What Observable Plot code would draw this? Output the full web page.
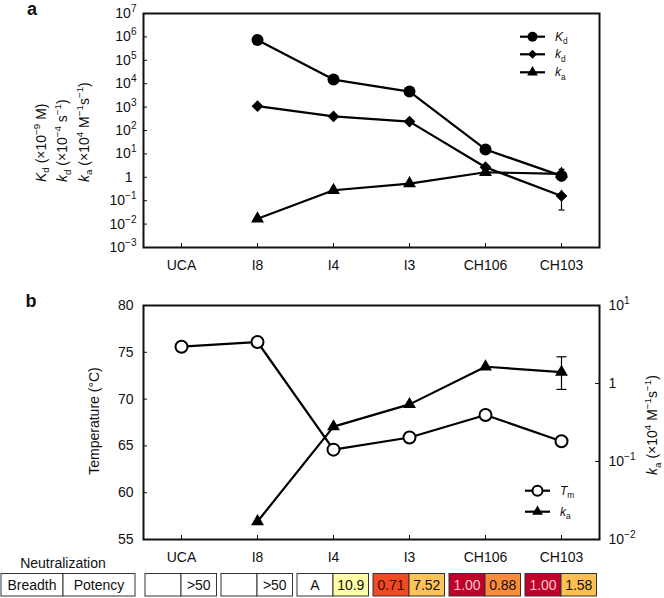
<!DOCTYPE html>
<html><head><meta charset="utf-8">
<script src="https://cdn.jsdelivr.net/npm/d3@7"></script>
<script src="https://cdn.jsdelivr.net/npm/@observablehq/plot@0.6"></script>
<style>
html,body{margin:0;padding:0;background:#fff;}
#root{position:relative;width:664px;height:598px;overflow:hidden;font-family:"Liberation Sans",Arial,Helvetica,sans-serif;}
#root svg{position:absolute;left:0;overflow:visible;}
</style></head><body><div id="root"></div>
<script>
// ---- data ----
const cats = ["UCA", "I8", "I4", "I3", "CH106", "CH103"];
const KdVals = [null, 7.4e5, 1.5e4, 4.6e3, 15.5, 1.15];   // x1e-9 M
const kdVals = [null, 1100, 400, 240, 2.7, 0.16];          // x1e-4 s-1
const kaVals = [null, 0.017, 0.28, 0.54, 1.64, 1.40];      // x1e4 M-1 s-1
const TmVals = [75.6, 76.1, 64.6, 65.9, 68.3, 65.5];       // degC
const kdErr = [{cat: "CH103", lo: 0.04, hi: 0.28}];
const kaErr = [{cat: "CH103", lo: 0.84, hi: 2.2}];
const breadth = ["", "", "A", "0.71", "1.00", "1.00"];
const potency = [">50", ">50", "10.9", "7.52", "0.88", "1.58"];
const yTicksA = [1e-3, 1e-2, 1e-1, 1, 1e1, 1e2, 1e3, 1e4, 1e5, 1e6, 1e7];
const yTicksTm = [55, 60, 65, 70, 75, 80];
const yTicksKa = [1e-2, 1e-1, 1, 1e1];
// cell colours (style palette)
const breadthColors = ["#ffffff", "#ffffff", "#ffffff", "#f04a22", "#c0002b", "#c0002b"];
const potencyColors = ["#ffffff", "#ffffff", "#ffffa6", "#fdc25a", "#fc8b3b", "#fdbf4f"];
const breadthText = ["#111", "#111", "#111", "#3a0a02", "#f6cccc", "#f6cccc"];

const rows = cats.map((c, i) => ({cat: c, Kd: KdVals[i], kd: kdVals[i], ka: kaVals[i], Tm: TmVals[i]}));
const rowsA = rows.filter(d => d.Kd != null);

const FONT = '"Liberation Sans", Arial, Helvetica, sans-serif';
const W = 664, ML = 143, MR = 65;
const frameW = W - ML - MR, frameH = 234, TICK = 4;
const INK = "#111";
const style = {fontFamily: FONT, fontSize: "14px", color: INK, background: "transparent", overflow: "visible"};

const fmtPow = v => v === 1 ? "1" : "10^" + String(Math.round(Math.log10(v))).replace("-", "\u2212");
const cap = w => ({draw(ctx) { ctx.moveTo(-w, 0); ctx.lineTo(w, 0); }});

function supify(svg, oneDx) {
  d3.select(svg).selectAll("text").each(function() {
    const t = this.textContent;
    if (t.includes("^")) {
      const [base, exp] = t.split("^");
      const sel = d3.select(this); sel.text(null);
      sel.append("tspan").text(base);
      sel.append("tspan").attr("dy", "-0.6em").attr("font-size", "72%").text(exp);
    } else if (t === "1" && oneDx) {
      d3.select(this).attr("dx", oneDx);
    }
  });
}

function rich(parent, parts, o) {
  const fs = o.fontSize;
  const t = parent.append("text").attr("font-size", fs).attr("font-family", FONT)
    .attr("text-anchor", o.anchor || "start").attr("fill", INK).style("white-space", "pre")
    .attr("transform", `translate(${o.x},${o.y}) rotate(${o.rotate || 0})`);
  let cur = 0;
  for (const [s, k] of parts) {
    const target = k === "sub" ? 0.28 * fs : k === "sup" ? -0.42 * fs : 0;
    const ts = t.append("tspan").text(s);
    if (target !== cur) ts.attr("dy", target - cur);
    cur = target;
    if (k === "sub" || k === "sup") ts.attr("font-size", fs * 0.7);
    if (k === "i") ts.attr("font-style", "italic");
  }
  return t;
}

const root = d3.select("#root");

// ---- Panel a ----
const plotA = Plot.plot({
  width: W, height: 280, marginLeft: ML, marginRight: MR, marginTop: 13, marginBottom: 33,
  style,
  x: {type: "point", domain: cats, padding: 0.5},
  y: {type: "log", domain: [1e-3, 1e7]},
  marks: [
    Plot.axisY({ticks: yTicksA, tickSize: 0, tickPadding: 7, tickFormat: fmtPow, label: null}),
    Plot.tickY(yTicksA, {y: d => d, insetRight: frameW - TICK, stroke: INK}),
    Plot.axisX({tickSize: 0, tickPadding: 13, label: null}),
    Plot.tickX(cats, {x: d => d, insetTop: frameH - TICK, stroke: INK}),
    Plot.line(rowsA, {x: "cat", y: "ka", stroke: "#000", strokeWidth: 2.2}),
    Plot.line(rowsA, {x: "cat", y: "kd", stroke: "#000", strokeWidth: 2.2}),
    Plot.line(rowsA, {x: "cat", y: "Kd", stroke: "#000", strokeWidth: 2.2}),
    Plot.ruleX(kdErr, {x: "cat", y1: "lo", y2: "hi", stroke: "#000", strokeWidth: 1.2}),
    Plot.dot(kdErr, {x: "cat", y: "lo", symbol: cap(3), fill: "none", stroke: "#000", strokeWidth: 1.2}),
    Plot.ruleX(kaErr, {x: "cat", y1: "lo", y2: "hi", stroke: "#000", strokeWidth: 1.2}),
    Plot.dot(kaErr, {x: "cat", y: "hi", symbol: cap(3), fill: "none", stroke: "#000", strokeWidth: 1.2}),
    Plot.dot(rowsA, {x: "cat", y: "ka", symbol: "triangle", r: 4.8, fill: "#000", stroke: "none"}),
    Plot.dot(rowsA, {x: "cat", y: "kd", symbol: "diamond2", r: 5.3, fill: "#000", stroke: "none"}),
    Plot.dot(rowsA, {x: "cat", y: "Kd", symbol: "circle", r: 6, fill: "#000", stroke: "none"}),
    Plot.frame({stroke: INK, strokeWidth: 2})
  ]
});
supify(plotA, -4);
plotA.style.top = "0px";
root.node().appendChild(plotA);
{
  const s = d3.select(plotA);
  s.append("text").attr("x", 32).attr("y", 15).attr("font-size", 18).attr("font-weight", "bold")
    .attr("font-family", FONT).attr("fill", INK).text("a");
  const lines = [
    [["K", "i"], ["d", "sub"], [" (\u00d710", ""], ["\u22129", "sup"], [" M)", ""]],
    [["k", "i"], ["d", "sub"], [" (\u00d710", ""], ["\u22124", "sup"], [" s", ""], ["\u22121", "sup"], [")", ""]],
    [["k", "i"], ["a", "sub"], [" (\u00d710", ""], ["4", "sup"], [" M", ""], ["\u22121", "sup"], ["s", ""], ["\u22121", "sup"], [")", ""]]
  ];
  [45.5, 67, 88.5].forEach((x, i) => rich(s, lines[i], {x, y: 182, fontSize: 14, rotate: -90}));
  // legend
  const leg = [
    {sym: d3.symbolCircle, size: Math.PI * 5 * 5, lab: [["K", "i"], ["d", "sub"]]},
    {sym: d3.symbolDiamond2, size: 52, lab: [["k", "i"], ["d", "sub"]]},
    {sym: d3.symbolTriangle, size: 50, lab: [["k", "i"], ["a", "sub"]]}
  ];
  [36.7, 54.3, 72.3].forEach((y, i) => {
    s.append("line").attr("x1", 520).attr("x2", 545).attr("y1", y).attr("y2", y).attr("stroke", "#000").attr("stroke-width", 2.2);
    s.append("path").attr("d", d3.symbol(leg[i].sym, leg[i].size)()).attr("transform", `translate(532.5,${y})`).attr("fill", "#000");
    rich(s, leg[i].lab, {x: 555, y: y + 4, fontSize: 12});
  });
}

// ---- Panel b ----
const HB = 318;
const plotB1 = Plot.plot({
  width: W, height: HB, marginLeft: ML, marginRight: MR, marginTop: 25, marginBottom: 59,
  style,
  x: {type: "point", domain: cats, padding: 0.5},
  y: {domain: [55, 80]},
  marks: [
    Plot.axisY({ticks: yTicksTm, tickSize: 0, tickPadding: 10, label: null}),
    Plot.tickY(yTicksTm, {y: d => d, insetRight: frameW - TICK, stroke: INK}),
    Plot.axisX({tickSize: 0, tickPadding: 13, label: null}),
    Plot.tickX(cats, {x: d => d, insetTop: frameH - TICK, stroke: INK}),
    Plot.line(rows, {x: "cat", y: "Tm", stroke: "#000", strokeWidth: 2.2}),
    Plot.dot(rows, {x: "cat", y: "Tm", r: 6, fill: "#fff", stroke: "#000", strokeWidth: 2}),
    Plot.frame({stroke: INK, strokeWidth: 2})
  ]
});
const plotB2 = Plot.plot({
  width: W, height: HB, marginLeft: ML, marginRight: MR, marginTop: 25, marginBottom: 59,
  style,
  x: {type: "point", domain: cats, padding: 0.5, axis: null},
  y: {type: "log", domain: [1e-2, 10]},
  marks: [
    Plot.axisY({anchor: "right", ticks: yTicksKa, tickSize: 0, tickPadding: 9, tickFormat: fmtPow, label: null}),
    Plot.tickY(yTicksKa, {y: d => d, insetLeft: frameW - TICK, stroke: INK}),
    Plot.line(rowsA, {x: "cat", y: "ka", stroke: "#000", strokeWidth: 2.2}),
    Plot.ruleX(kaErr, {x: "cat", y1: "lo", y2: "hi", stroke: "#000", strokeWidth: 1.2}),
    Plot.dot(kaErr, {x: "cat", y: "hi", symbol: cap(5), fill: "none", stroke: "#000", strokeWidth: 1.2}),
    Plot.dot(kaErr, {x: "cat", y: "lo", symbol: cap(5), fill: "none", stroke: "#000", strokeWidth: 1.2}),
    Plot.dot(rowsA, {x: "cat", y: "ka", symbol: "triangle", r: 4.8, fill: "#000", stroke: "none"})
  ]
});
supify(plotB2, 0);
plotB1.style.top = "280px";
plotB2.style.top = "280px";
root.node().appendChild(plotB1);
root.node().appendChild(plotB2);
{
  const s = d3.select(plotB1);
  s.append("text").attr("x", 31).attr("y", 27).attr("font-size", 18).attr("font-weight", "bold")
    .attr("font-family", FONT).attr("fill", INK).text("b");
  rich(s, [["Temperature (\u00b0C)", ""]], {x: 99, y: 141, fontSize: 14, rotate: -90, anchor: "middle"});
  // legend
  const yl = [210.7, 231.7];
  yl.forEach(y => s.append("line").attr("x1", 525).attr("x2", 550).attr("y1", y).attr("y2", y).attr("stroke", "#000").attr("stroke-width", 2.2));
  s.append("circle").attr("cx", 537.5).attr("cy", yl[0]).attr("r", 5).attr("fill", "#fff").attr("stroke", "#000").attr("stroke-width", 2);
  s.append("path").attr("d", d3.symbol(d3.symbolTriangle, 50)()).attr("transform", `translate(537.5,${yl[1]})`).attr("fill", "#000");
  rich(s, [["T", "i"], ["m", "sub"]], {x: 560, y: yl[0] + 4, fontSize: 12});
  rich(s, [["k", "i"], ["a", "sub"]], {x: 560, y: yl[1] + 4, fontSize: 12});

  // neutralization table
  const xs = plotB1.scale("x");
  const top = 293.5, h = 22.5, ty = top + h / 2 + 5;
  s.append("text").attr("x", 63).attr("y", 288).attr("text-anchor", "middle").attr("font-size", 14)
    .attr("font-family", FONT).attr("fill", INK).text("Neutralization");
  const hdr = [[1, 63, "Breadth"], [63, 135, "Potency"]];
  hdr.forEach(([a, b, t]) => {
    s.append("rect").attr("x", a).attr("y", top).attr("width", b - a).attr("height", h)
      .attr("fill", "#fff").attr("stroke", "#333").attr("stroke-width", 1);
    s.append("text").attr("x", (a + b) / 2).attr("y", ty).attr("text-anchor", "middle").attr("font-size", 14)
      .attr("font-family", FONT).attr("fill", INK).text(t);
  });
  cats.forEach((c, i) => {
    const cx = xs.apply(c);
    const cells = [[cx - 36, cx, breadth[i], breadthColors[i], breadthText[i]], [cx, cx + 35.5, potency[i], potencyColors[i], "#111"]];
    cells.forEach(([a, b, t, f, tc]) => {
      s.append("rect").attr("x", a).attr("y", top).attr("width", b - a).attr("height", h)
        .attr("fill", f).attr("stroke", "#333").attr("stroke-width", 1);
      s.append("text").attr("x", (a + b) / 2).attr("y", ty).attr("text-anchor", "middle").attr("font-size", 14)
        .attr("font-family", FONT).attr("fill", tc).text(t);
    });
  });
}
{
  const s = d3.select(plotB2);
  rich(s, [["k", "i"], ["a", "sub"], [" (\u00d710", ""], ["4", "sup"], [" M", ""], ["\u22121", "sup"], ["s", ""], ["\u22121", "sup"], [")", ""]],
    {x: 657, y: 145, fontSize: 14, rotate: -90, anchor: "middle"});
}
</script></body></html>
